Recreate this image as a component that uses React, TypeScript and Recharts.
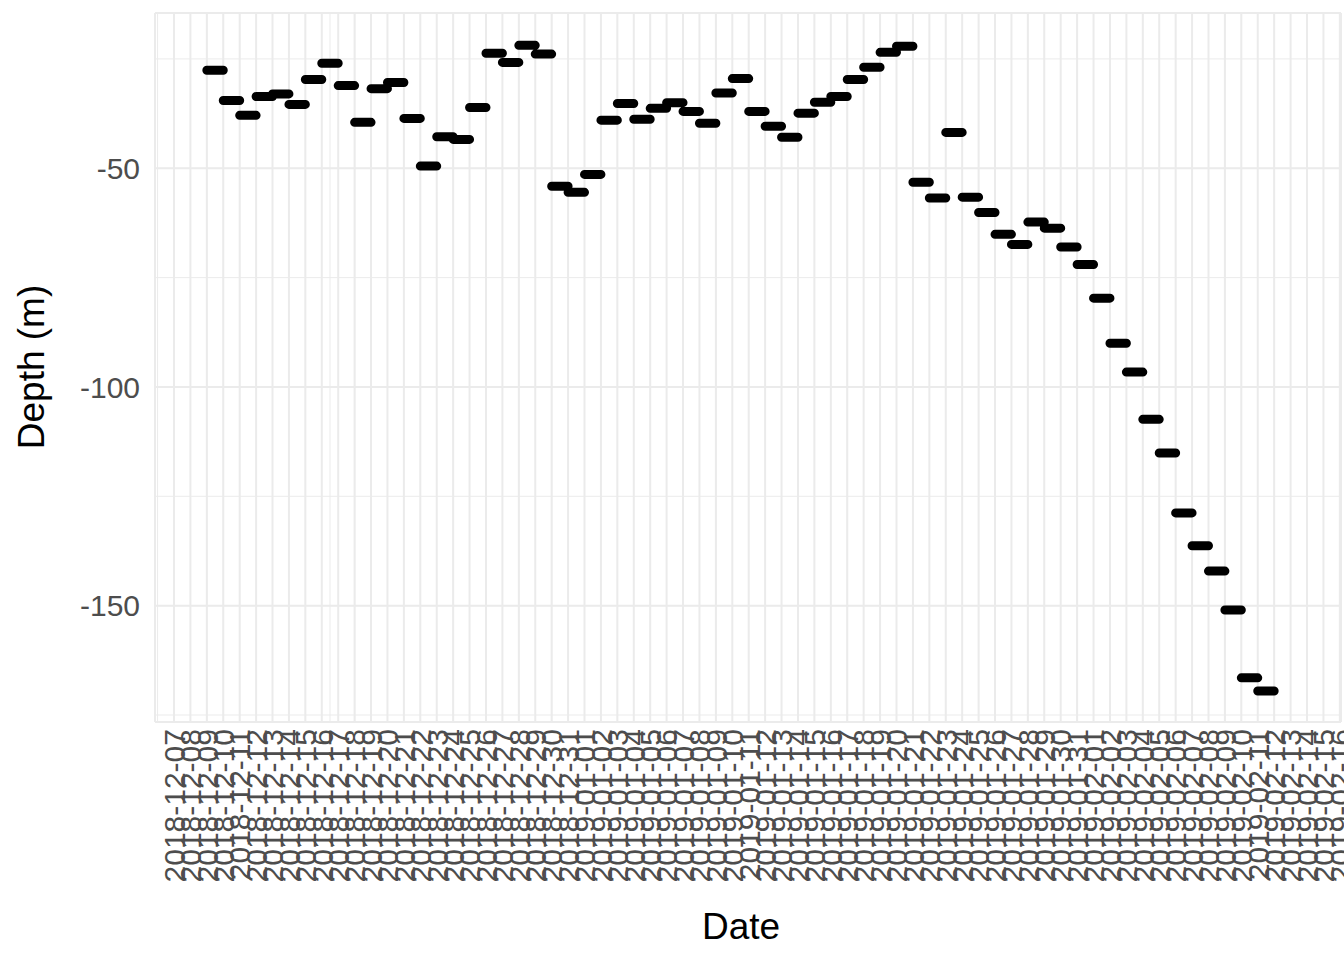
import React from 'react';
import { ComposedChart, Line, XAxis, YAxis, CartesianGrid, Label } from 'recharts';

// tick labels, one per day
const tickLabels = [
  '2018-12-07', '2018-12-08', '2018-12-09', '2018-12-10', '2018-12-11', '2018-12-12', '2018-12-13', '2018-12-14',
  '2018-12-15', '2018-12-16', '2018-12-17', '2018-12-18', '2018-12-19', '2018-12-20', '2018-12-21', '2018-12-22',
  '2018-12-23', '2018-12-24', '2018-12-25', '2018-12-26', '2018-12-27', '2018-12-28', '2018-12-29', '2018-12-30',
  '2018-12-31', '2019-01-01', '2019-01-02', '2019-01-03', '2019-01-04', '2019-01-05', '2019-01-06', '2019-01-07',
  '2019-01-08', '2019-01-09', '2019-01-10', '2019-01-11', '2019-01-12', '2019-01-13', '2019-01-14', '2019-01-15',
  '2019-01-16', '2019-01-17', '2019-01-18', '2019-01-19', '2019-01-20', '2019-01-21', '2019-01-22', '2019-01-23',
  '2019-01-24', '2019-01-25', '2019-01-26', '2019-01-27', '2019-01-28', '2019-01-29', '2019-01-30', '2019-01-31',
  '2019-02-01', '2019-02-02', '2019-02-03', '2019-02-04', '2019-02-05', '2019-02-06', '2019-02-07', '2019-02-08',
  '2019-02-09', '2019-02-10', '2019-02-11', '2019-02-12', '2019-02-13', '2019-02-14', '2019-02-15', '2019-02-16',
];

// first day of each daily segment
const segmentDates = [
  '2018-12-09', '2018-12-10', '2018-12-11', '2018-12-12', '2018-12-13', '2018-12-14', '2018-12-15', '2018-12-16',
  '2018-12-17', '2018-12-18', '2018-12-19', '2018-12-20', '2018-12-21', '2018-12-22', '2018-12-23', '2018-12-24',
  '2018-12-25', '2018-12-26', '2018-12-27', '2018-12-28', '2018-12-29', '2018-12-30', '2018-12-31', '2019-01-01',
  '2019-01-02', '2019-01-03', '2019-01-04', '2019-01-05', '2019-01-06', '2019-01-07', '2019-01-08', '2019-01-09',
  '2019-01-10', '2019-01-11', '2019-01-12', '2019-01-13', '2019-01-14', '2019-01-15', '2019-01-16', '2019-01-17',
  '2019-01-18', '2019-01-19', '2019-01-20', '2019-01-21', '2019-01-22', '2019-01-23', '2019-01-24', '2019-01-25',
  '2019-01-26', '2019-01-27', '2019-01-28', '2019-01-29', '2019-01-30', '2019-01-31', '2019-02-01', '2019-02-02',
  '2019-02-03', '2019-02-04', '2019-02-05', '2019-02-06', '2019-02-07', '2019-02-08', '2019-02-09', '2019-02-10',
  '2019-02-11',
];

// depth (m) of each segment
const depths = [
  -27.6, -34.5, -37.9, -33.6, -33.0, -35.4, -29.7, -26.0,
  -31.1, -39.5, -31.8, -30.4, -38.6, -49.5, -42.8, -43.4,
  -36.1, -23.7, -25.8, -21.9, -23.9, -54.1, -55.5, -51.4,
  -39.0, -35.2, -38.8, -36.3, -35.0, -37.0, -39.7, -32.8,
  -29.5, -37.0, -40.4, -42.9, -37.4, -34.9, -33.6, -29.7,
  -26.9, -23.5, -22.1, -53.2, -56.8, -41.8, -56.6, -60.1,
  -65.1, -67.4, -62.3, -63.7, -68.0, -72.0, -79.7, -90.0,
  -96.6, -107.4, -115.1, -128.8, -136.3, -142.1, -151.0, -166.5,
  -169.5,
];

const yMajorTicks = [-150, -100, -50];
const yMinorTicks = [-175, -150, -125, -100, -75, -50, -25];

const DAY = 86400000;
const day0 = Date.parse(tickLabels[0]);
const dayIndex = (d: string) => Math.round((Date.parse(d) - day0) / DAY);

const xMajorTicks = tickLabels.map((_, i) => i);
const xMinorTicks: number[] = [];
for (let i = -2; i <= 2 * (tickLabels.length - 1); i++) xMinorTicks.push(i / 2);

// each segment runs from its day to the next one; nulls break the line
const lineData: { x: number; depth: number | null }[] = [];
segmentDates.forEach((d, i) => {
  const x = dayIndex(d);
  if (i > 0) lineData.push({ x, depth: null });
  lineData.push({ x, depth: depths[i] }, { x: x + 1, depth: depths[i] });
});

const FONT = '"Liberation Sans", Arial, sans-serif';
const X_DOMAIN: [number, number] = [-1.157, 71.07];
const Y_DOMAIN: [number, number] = [-176.6, -14.5];

const DateTick = (props: any) => {
  const { x, y, payload } = props;
  const label = tickLabels[payload.value];
  if (!label) return <g />;
  return (
    <text
      x={x}
      y={y}
      transform={`rotate(-90 ${x} ${y})`}
      textAnchor="end"
      dy="0.36em"
      fontSize={30}
      fontFamily={FONT}
      fill="#4D4D4D"
    >
      {label}
    </text>
  );
};

const DepthTick = (props: any) => {
  const { x, y, payload } = props;
  if (payload.value % 50 !== 0) return <g />;
  return (
    <text x={x} y={y} textAnchor="end" dy="0.36em" fontSize={30} fontFamily={FONT} fill="#4D4D4D">
      {payload.value}
    </text>
  );
};

export default function App() {
  return (
    <div style={{ position: 'absolute', left: 0, top: 0, background: '#fff' }}>
      <ComposedChart
        width={1344}
        height={960}
        data={lineData}
        margin={{ top: 13, right: 3, left: 0, bottom: 0 }}
      >
        <XAxis
          xAxisId="minor"
          type="number"
          dataKey="x"
          domain={X_DOMAIN}
          ticks={xMinorTicks}
          allowDataOverflow
          hide
        />
        <YAxis yAxisId="minor" type="number" domain={Y_DOMAIN} ticks={yMinorTicks} allowDataOverflow hide />
        <CartesianGrid xAxisId="minor" yAxisId="minor" stroke="#EBEBEB" strokeWidth={1} />
        <CartesianGrid stroke="#EBEBEB" strokeWidth={2} />
        <XAxis
          type="number"
          dataKey="x"
          domain={X_DOMAIN}
          ticks={xMajorTicks}
          interval={0}
          allowDataOverflow
          axisLine={false}
          tickLine={false}
          tickSize={0}
          tickMargin={7}
          height={238}
          tick={<DateTick />}
        >
          <Label
            content={() => (
              <text x={741} y={939} textAnchor="middle" fontSize={37} fontFamily={FONT} fill="#000">
                Date
              </text>
            )}
          />
        </XAxis>
        <YAxis
          type="number"
          domain={Y_DOMAIN}
          ticks={yMajorTicks}
          interval={0}
          allowDataOverflow
          axisLine={false}
          tickLine={false}
          tickSize={0}
          tickMargin={15}
          width={155}
          tick={<DepthTick />}
        >
          <Label
            content={() => (
              <text
                x={44}
                y={367}
                transform="rotate(-90 44 367)"
                textAnchor="middle"
                fontSize={37}
                fontFamily={FONT}
                fill="#000"
              >
                Depth (m)
              </text>
            )}
          />
        </YAxis>
        <Line
          type="linear"
          dataKey="depth"
          stroke="#000"
          strokeWidth={9}
          strokeLinecap="round"
          dot={false}
          activeDot={false}
          connectNulls={false}
          isAnimationActive={false}
        />
      </ComposedChart>
    </div>
  );
}
